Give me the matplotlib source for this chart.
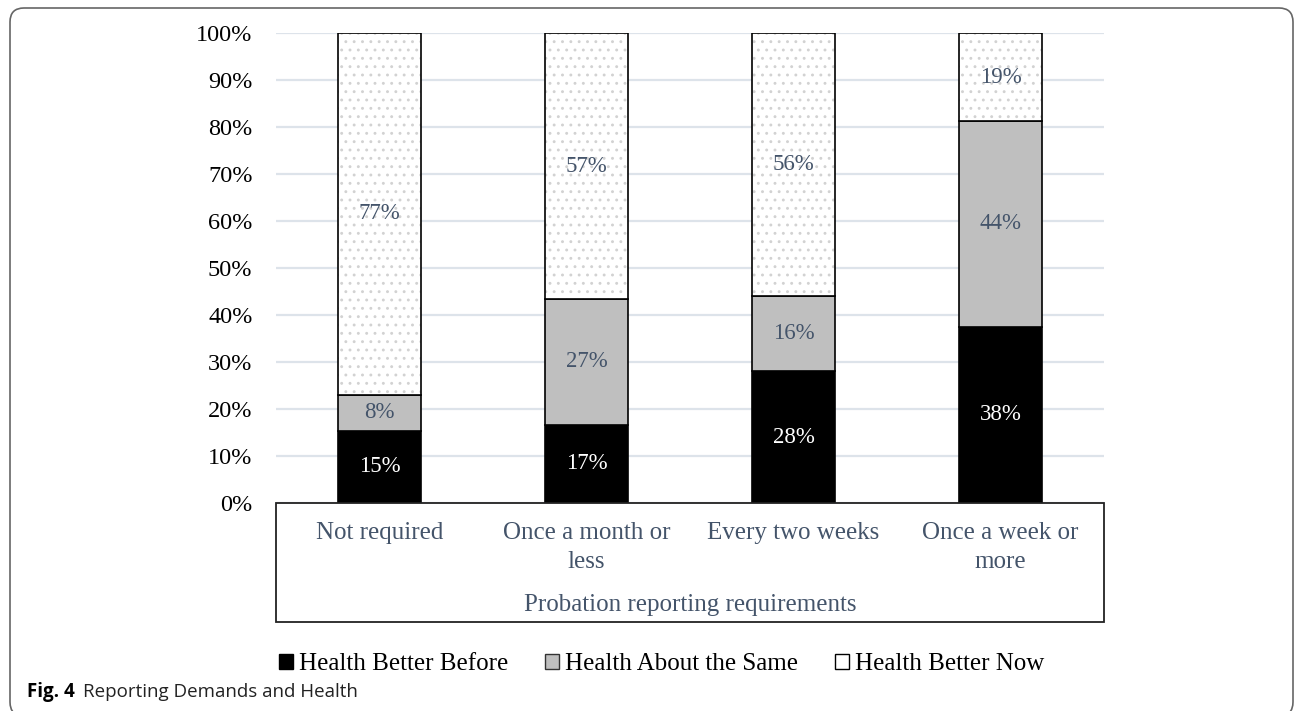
import matplotlib
matplotlib.use("Agg")
import matplotlib.pyplot as plt
from matplotlib.patches import Patch, FancyBboxPatch, Rectangle
import numpy as np

# Reporting requirement categories and health-change shares (percent of respondents)
categories = ["Not required", "Once a month or\nless", "Every two weeks", "Once a week or\nmore"]
better_before = [15.38, 16.67, 28.0, 37.5]
about_same = [7.69, 26.67, 16.0, 43.75]
better_now = [76.92, 56.67, 56.0, 18.75]
series_names = ["Health Better Before", "Health About the Same", "Health Better Now"]
y_ticks = [0, 10, 20, 30, 40, 50, 60, 70, 80, 90, 100]
x_title = "Probation reporting requirements"
caption_bold = "Fig. 4"
caption_text = "Reporting Demands and Health"

SERIF = "Liberation Serif"
SLATE = "#44546A"
GRAY = "#BFBFBF"
plt.rcParams["hatch.linewidth"] = 0.9

fig = plt.figure(figsize=(12.95, 7.11), dpi=100)
ax = fig.add_axes([276 / 1295, 1 - 503 / 711, (1104 - 276) / 1295, (503 - 33) / 711])

x = np.arange(len(categories))
w = 0.4
bottom2 = np.array(better_before)
bottom3 = bottom2 + np.array(about_same)

b1 = ax.bar(x, better_before, w, color="black", edgecolor="black", linewidth=1.2, zorder=3)
b2 = ax.bar(x, about_same, w, bottom=bottom2, color=GRAY, edgecolor="black", linewidth=1.2, zorder=3)
# dotted fill for the top segment, then its outline
ax.bar(x, better_now, w, bottom=bottom3, color="white", edgecolor="#D2D2D2", linewidth=0,
       hatch="..", zorder=3)
b3 = ax.bar(x, better_now, w, bottom=bottom3, fill=False, edgecolor="black", linewidth=1.2,
            zorder=3.5)

# value labels at segment centres
for vals, bots, col in [(better_before, np.zeros(4), "white"),
                        (about_same, bottom2, SLATE),
                        (better_now, bottom3, SLATE)]:
    for xi, v, b in zip(x, vals, bots):
        ax.text(xi, b + v / 2, f"{v:.0f}%", ha="center", va="center", color=col,
                fontsize=16.5, family=SERIF, zorder=4)

ax.set_xlim(-0.5, len(categories) - 0.5)
ax.set_ylim(0, 100)
ax.set_yticks(y_ticks)
ax.set_yticklabels([f"{t}%" for t in y_ticks], family=SERIF, fontsize=17.5, color="black")
ax.yaxis.grid(True, color="#DDE3EA", linewidth=1.6, zorder=0)
ax.set_axisbelow(True)
for s in ax.spines.values():
    s.set_visible(False)
ax.tick_params(axis="y", length=0, pad=17)
ax.tick_params(axis="x", length=0, pad=14)
ax.set_xticks(x)
ax.set_xticklabels(categories, family=SERIF, fontsize=18, color=SLATE, linespacing=1.4)

# category box under the plot
box_h = (622 - 503) / 470
ax.add_patch(Rectangle((0, -box_h), 1, box_h, transform=ax.transAxes, fill=False,
                       edgecolor="#222222", linewidth=1.3, clip_on=False, zorder=5))
ax.text(0.5, -box_h + 0.037, x_title, transform=ax.transAxes, ha="center", va="center",
        family=SERIF, fontsize=18, color=SLATE)

handles = [Patch(facecolor="black", edgecolor="black"),
           Patch(facecolor=GRAY, edgecolor="#333333"),
           Patch(facecolor="white", edgecolor="black")]
fig.legend(handles, series_names, loc="center", bbox_to_anchor=(661.5 / 1295, 1 - 664 / 711),
           ncol=3, frameon=False, prop={"family": SERIF, "size": 18},
           handlelength=0.55, handleheight=0.55, handletextpad=0.24, columnspacing=1.48)

# caption
fig.text(27 / 1295, 1 - 692 / 711, caption_bold, family="Open Sans", fontweight="bold",
         fontsize=13.5, va="center", ha="left")
fig.text(83 / 1295, 1 - 692 / 711, caption_text, family="Open Sans", fontsize=13.5,
         va="center", ha="left", color="#222222")

# rounded outer frame
frame = FancyBboxPatch((0.10, -0.05), 12.83, 7.08, boxstyle="round,pad=0,rounding_size=0.14",
                       transform=fig.dpi_scale_trans, fill=False, edgecolor="#666666",
                       linewidth=1.2, clip_on=False)
fig.patches.append(frame)

fig.savefig("out.png", dpi=100)
